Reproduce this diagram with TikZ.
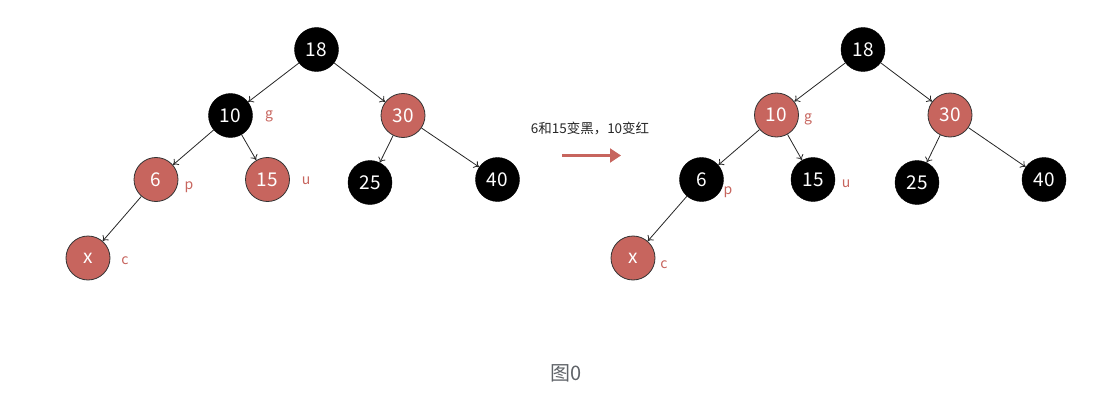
\documentclass[tikz,border=0pt]{standalone}
\usepackage{fontspec}
\setmainfont{Noto Sans CJK SC}
\newfontfamily\cjk{Noto Sans CJK SC}
\usetikzlibrary{arrows.meta}
\definecolor{rbred}{RGB}{199,101,94}
\definecolor{capgray}{RGB}{95,99,104}
\tikzset{
  rbnode/.style={circle, minimum size=44pt, inner sep=0pt, font=\fontsize{19}{19}\selectfont, text=white},
  rednode/.style={rbnode, fill=rbred, draw=black!80, line width=0.8pt},
  blacknode/.style={rbnode, fill=black, draw=black},
  tag/.style={text=rbred, font=\fontsize{14}{14}\selectfont},
  edge/.style={draw=black!85, line width=0.8pt, -{To[length=5pt,width=8pt]}},
}
\begin{document}
\begin{tikzpicture}[x=1pt,y=-1pt]
\useasboundingbox (0,0) rectangle (1101,412);
% left tree
\node[blacknode] (a18) at (316.5,49.5) {18};
\node[blacknode] (a10) at (230.5,115.5) {10};
\node[rednode] (a30) at (403,115.5) {30};
\node[rednode] (a6) at (156,179.5) {6};
\node[rednode] (a15) at (267.5,179.5) {15};
\node[blacknode] (a25) at (370,182.5) {25};
\node[blacknode] (a40) at (497.5,179.5) {40};
\node[rednode] (ax) at (88,258) {x};
\node[tag] (ag) at (269,116) {g};
\node[tag] (ap) at (189,187) {p};
\node[tag] (au) at (306,181) {u};
\node[tag] (ac) at (125,261) {c};
\draw[edge] (a18) -- (a10);
\draw[edge] (a18) -- (a30);
\draw[edge] (a10) -- (a6);
\draw[edge] (a10) -- (a15);
\draw[edge] (a30) -- (a25);
\draw[edge] (a30) -- (a40);
\draw[edge] (a6) -- (ax);
% middle
\node[font=\cjk\fontsize{13.5}{13.5}\selectfont, text=black!85] (msg) at (590,128) {6和15变黑，10变红};
\coordinate (ms) at (562,155.5);
\coordinate (me) at (621,155.5);
\draw[draw=rbred, line width=2.2pt, -{Triangle[length=11pt,width=14pt]}] (ms) -- (me);
% right tree
\node[blacknode] (b18) at (863,49.5) {18};
\node[rednode] (b10) at (776.5,115) {10};
\node[rednode] (b30) at (950,115) {30};
\node[blacknode] (b6) at (701.5,179.5) {6};
\node[blacknode] (b15) at (813,179.5) {15};
\node[blacknode] (b25) at (917,182.5) {25};
\node[blacknode] (b40) at (1044,179.5) {40};
\node[rednode] (bx) at (633,258) {x};
\node[tag] (bg) at (808,119) {g};
\node[tag] (bp) at (728,192) {p};
\node[tag] (bu) at (846,184) {u};
\node[tag] (bc) at (664,265) {c};
\draw[edge] (b18) -- (b10);
\draw[edge] (b18) -- (b30);
\draw[edge] (b10) -- (b6);
\draw[edge] (b10) -- (b15);
\draw[edge] (b30) -- (b25);
\draw[edge] (b30) -- (b40);
\draw[edge] (b6) -- (bx);
% caption
\node[font=\cjk\fontsize{20}{20}\selectfont, text=capgray] (cap) at (566,373) {图0};
\end{tikzpicture}
\end{document}
